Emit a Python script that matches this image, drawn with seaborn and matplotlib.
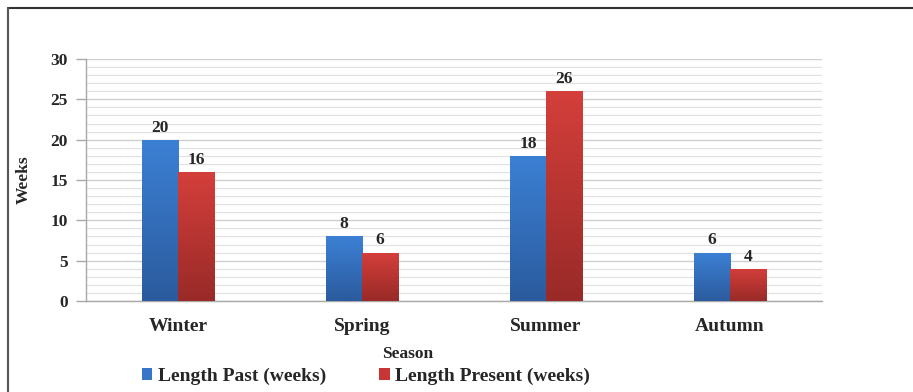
import matplotlib
matplotlib.use("Agg")
import matplotlib.pyplot as plt
import matplotlib.colors as mcolors
from matplotlib.lines import Line2D
from matplotlib.patches import Patch
import numpy as np
import pandas as pd
import seaborn as sns

seasons = ["Winter", "Spring", "Summer", "Autumn"]
past = [20, 8, 18, 6]
present = [16, 6, 26, 4]
series_names = ["Length Past (weeks)", "Length Present (weeks)"]

df = pd.DataFrame({
    "Season": seasons * 2,
    "Weeks": past + present,
    "Series": [series_names[0]] * 4 + [series_names[1]] * 4,
})

sns.set_theme(style="white")
plt.rcParams["font.family"] = ["Liberation Serif", "DejaVu Serif"]
plt.rcParams["font.weight"] = "bold"

fig = plt.figure(figsize=(9.13, 3.92), dpi=100)
ax = fig.add_axes([86/913, 1 - 301/392, (822-86)/913, (301-59)/392])

pal = {series_names[0]: "#3776c6", series_names[1]: "#c73634"}
sns.barplot(data=df, x="Season", y="Weeks", hue="Series", order=seasons,
            hue_order=series_names, palette=pal, width=0.392, ax=ax,
            saturation=1, legend=False, edgecolor="none", linewidth=0, zorder=3)

ax.set_ylim(0, 30)
ax.set_xlim(-0.5, 3.5)
ax.set_yticks(range(0, 31, 5))
ax.set_yticks(range(0, 31, 1), minor=True)
ax.grid(axis="y", which="major", color="#cfcfcf", linewidth=1.0, zorder=0)
ax.grid(axis="y", which="minor", color="#e2e2e2", linewidth=0.9, zorder=0)
ax.set_axisbelow(True)
for s in ["top", "right"]:
    ax.spines[s].set_visible(False)
for s in ["left", "bottom"]:
    ax.spines[s].set_color("#a8a8a8")
    ax.spines[s].set_linewidth(1.0)
ax.tick_params(axis="y", which="major", length=7, color="#a8a8a8", width=1,
               labelsize=12.5, pad=6, left=True)
ax.tick_params(axis="y", which="minor", length=0)
ax.tick_params(axis="x", length=0, labelsize=14, pad=12)
for lab in ax.get_yticklabels() + ax.get_xticklabels():
    lab.set_fontweight("bold")
ax.set_xlabel("")
ax.set_ylabel("Weeks", fontsize=12.5, fontweight="bold")
ax.yaxis.set_label_coords(-54/736, 0.5)

# gradient overlay on bars
top_cols = {0: "#3c80d4", 1: "#d43f3b"}
bot_cols = {0: "#2b5b9e", 1: "#992a28"}
for ci, cont in enumerate(ax.containers):
    for p in cont:
        x0, y0 = p.get_x(), p.get_y()
        w, h = p.get_width(), p.get_height()
        c1 = np.array(mcolors.to_rgb(top_cols[ci]))
        c2 = np.array(mcolors.to_rgb(bot_cols[ci]))
        t = np.linspace(0, 1, 64)[:, None]
        grad = (c1 * (1 - t) + c2 * t)[:, None, :]
        im = ax.imshow(grad, extent=[x0, x0 + w, y0, y0 + h], origin="upper",
                       aspect="auto", zorder=4, interpolation="bilinear")
        im.set_clip_path(p)
    ax.bar_label(cont, padding=3, fontsize=12.5, fontweight="bold", zorder=5)
ax.set_xlim(-0.5, 3.5)
ax.set_ylim(0, 30)

fig.text(408/913, 1 - 354/392, "Season", ha="center", va="center",
         fontsize=12.5, fontweight="bold")

handles = [Patch(facecolor=pal[n], edgecolor="none") for n in series_names]
fig.legend(handles, series_names, loc="center", bbox_to_anchor=(366/913, 1 - 376/392),
           ncol=2, frameon=False, handlelength=0.55, handleheight=0.55,
           handletextpad=0.3, columnspacing=2.7,
           prop={"family": "Liberation Serif", "weight": "bold", "size": 14})

# outer frame lines (top and left)
fig.add_artist(Line2D([8/913, 1], [1 - 8/392, 1 - 8/392], color="#333333", linewidth=1.5,
                      transform=fig.transFigure))
fig.add_artist(Line2D([8/913, 8/913], [0, 1 - 8/392], color="#555555", linewidth=1.5,
                      transform=fig.transFigure))

fig.savefig("out.png", dpi=100, facecolor="white")
